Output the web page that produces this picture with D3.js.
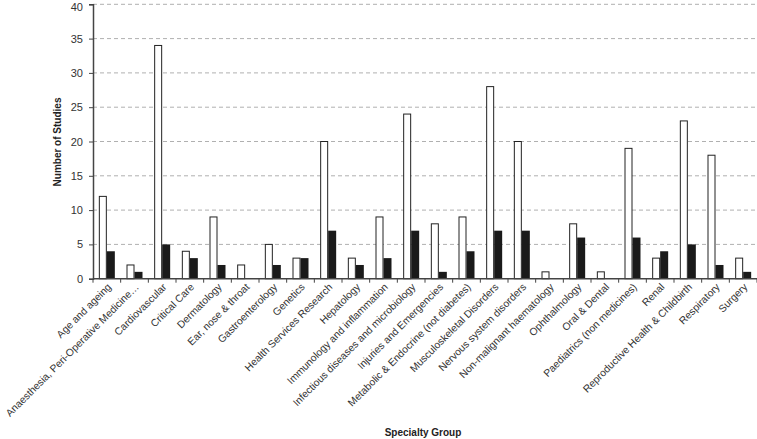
<!DOCTYPE html>
<html><head><meta charset="utf-8">
<script src="https://cdn.jsdelivr.net/npm/d3@7"></script>
<style>body{margin:0;background:#fff}svg{display:block;font-family:"Liberation Sans",Arial,sans-serif}</style>
</head><body><svg id="c" width="757" height="439"></svg>
<script>
const categories = ["Age and ageing","Anaesthesia, Peri-Operative Medicine…","Cardiovascular","Critical Care","Dermatology","Ear, nose & throat","Gastroenterology","Genetics","Health Services Research","Hepatology","Immunology and inflammation","Infectious diseases and microbiology","Injuries and Emergencies","Metabolic & Endocrine (not diabetes)","Musculoskeletal Disorders","Nervous system disorders","Non-malignant haematology","Ophthalmology","Oral & Dental","Paediatrics (non medicines)","Renal","Reproductive Health & Childbirth","Respiratory","Surgery"];
const seriesWhite = [12,2,34,4,9,2,5,3,20,3,9,24,8,9,28,20,1,8,1,19,3,23,18,3];
const seriesBlack = [4,1,5,3,2,0,2,3,7,2,3,7,1,4,7,7,0,6,0,6,4,5,2,1];
const yTicks = [0,5,10,15,20,25,30,35,40];

const svg = d3.select("#c");
const m = {l:93, t:4.3, r:757, b:278.7};
const x = d3.scaleBand().domain(categories).range([m.l, m.r]);
const y = d3.scaleLinear().domain([0,40]).range([m.b, m.t]);
const bw = x.bandwidth();
const barW = 8;
const off = (bw - 2*barW)/2;

// gridlines
svg.append("g").selectAll("line").data(yTicks.filter(d=>d>0)).join("line")
  .attr("x1", m.l).attr("x2", m.r).attr("y1", d=>y(d)).attr("y2", d=>y(d))
  .attr("stroke", "#b0b0b0").attr("stroke-width", 1).attr("stroke-dasharray", "4,3");

// bars
const g = svg.append("g");
g.selectAll("rect.w").data(categories).join("rect").attr("class","w")
  .attr("x", d=>x(d)+off+0.5).attr("width", barW-1)
  .attr("y", (d,i)=>y(seriesWhite[i])).attr("height", (d,i)=>m.b - y(seriesWhite[i]))
  .attr("fill", "#fff").attr("stroke", "#222").attr("stroke-width", 1);
g.selectAll("rect.b").data(categories).join("rect").attr("class","b")
  .attr("x", d=>x(d)+off+barW).attr("width", barW)
  .attr("y", (d,i)=>y(seriesBlack[i])).attr("height", (d,i)=>m.b - y(seriesBlack[i]))
  .attr("fill", "#1a1a1a");

// y axis
const ya = svg.append("g").attr("transform", `translate(${m.l},0)`)
  .call(d3.axisLeft(y).tickValues(yTicks).tickSize(4).tickPadding(6));
ya.select(".domain").attr("stroke", "#444").attr("stroke-width", 1.5);
ya.selectAll(".tick line").attr("stroke", "#444");
ya.selectAll("text").attr("font-size", 11).attr("fill", "#333")
  .attr("dy", d=>d===40 ? "0.6em" : "0.32em");

// x axis
const xa = svg.append("g").attr("transform", `translate(0,${m.b})`);
xa.append("line").attr("x1", m.l).attr("x2", m.r).attr("stroke", "#444").attr("stroke-width", 1.5);
xa.selectAll("line.t").data(d3.range(categories.length+1)).join("line").attr("class","t")
  .attr("x1", i=>m.l + i*bw).attr("x2", i=>m.l + i*bw).attr("y1", 0).attr("y2", 4)
  .attr("stroke", "#444");
xa.selectAll("text").data(categories).join("text")
  .attr("transform", d=>`translate(${x(d)+bw/2+5},9) rotate(-45)`)
  .attr("text-anchor", "end").attr("font-size", 10.3).attr("fill", "#333")
  .text(d=>d);

// titles
svg.append("text").attr("transform", `translate(61,142) rotate(-90)`)
  .attr("text-anchor", "middle").attr("font-size", 10).attr("font-weight", "bold").attr("fill", "#222")
  .text("Number of Studies");
svg.append("text").attr("x", 423).attr("y", 436)
  .attr("text-anchor", "middle").attr("font-size", 10).attr("font-weight", "bold").attr("fill", "#222")
  .text("Specialty Group");
</script></body></html>
